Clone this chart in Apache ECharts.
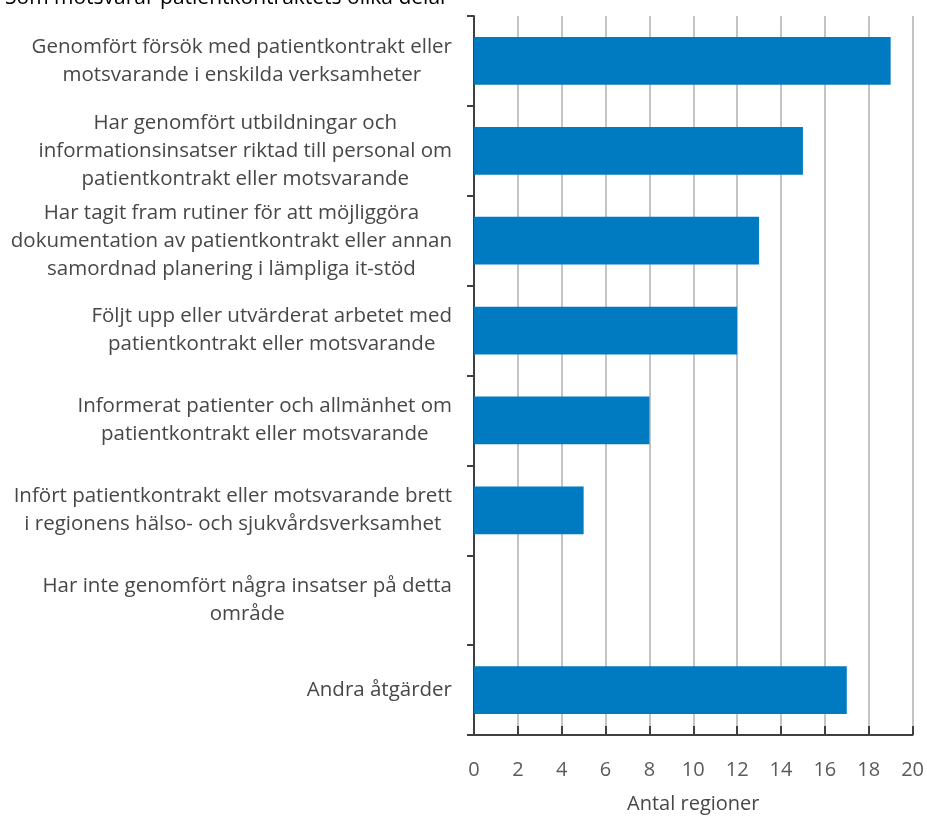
<!DOCTYPE html>
<html>
<head>
<meta charset="utf-8">
<script src="https://cdn.jsdelivr.net/npm/echarts@6/dist/echarts.min.js"></script>
<style>
  html, body { margin: 0; padding: 0; background: #fff; }
  #chart { width: 927px; height: 819px; }
</style>
</head>
<body>
<div id="chart"></div>
<script>
// Kategorier (åtgärder) och antal regioner
const categories = [
  "Genomfört försök med patientkontrakt eller\nmotsvarande i enskilda verksamheter",
  "Har genomfört utbildningar och\ninformationsinsatser riktad till personal om\npatientkontrakt eller motsvarande",
  "Har tagit fram rutiner för att möjliggöra\ndokumentation av patientkontrakt eller annan\nsamordnad planering i lämpliga it-stöd",
  "Följt upp eller utvärderat arbetet med\npatientkontrakt eller motsvarande",
  "Informerat patienter och allmänhet om\npatientkontrakt eller motsvarande",
  "Infört patientkontrakt eller motsvarande brett\ni regionens hälso- och sjukvårdsverksamhet",
  "Har inte genomfört några insatser på detta\nområde",
  "Andra åtgärder"
];
const values = [19, 15, 13, 12, 8, 5, 0, 17];
const xTicks = [0, 2, 4, 6, 8, 10, 12, 14, 16, 18, 20];

const FONT = '"Open Sans", "Noto Sans", sans-serif';
const TEXT = '#474747';

const chart = echarts.init(document.getElementById('chart'), null, { renderer: 'canvas' });

chart.setOption({
  animation: false,
  title: {
    text: 'Som motsvarar patientkontraktets olika delar',
    left: 0,
    top: -17,
    textStyle: { fontFamily: FONT, fontSize: 21, fontWeight: 'normal', color: '#000' }
  },
  grid: { left: 474, right: 14, top: 16, bottom: 79, containLabel: false },
  xAxis: {
    type: 'value',
    min: xTicks[0],
    max: xTicks[xTicks.length - 1],
    interval: 2,
    name: 'Antal regioner',
    nameLocation: 'middle',
    nameGap: 59,
    nameTextStyle: { fontFamily: FONT, fontSize: 20, color: TEXT },
    axisLine: { show: true, lineStyle: { color: '#404040', width: 2 } },
    axisTick: { show: true, inside: true, length: 9, lineStyle: { color: '#404040', width: 2 } },
    axisLabel: { fontFamily: FONT, fontSize: 20, color: '#5a5a5a', margin: 25 },
    splitLine: { show: true, lineStyle: { color: '#c4c4c4', width: 2 } }
  },
  yAxis: {
    type: 'category',
    inverse: true,
    data: categories,
    axisLine: { show: true, lineStyle: { color: '#404040', width: 2 } },
    axisTick: { show: true, alignWithLabel: false, length: 7, lineStyle: { color: '#404040', width: 2 } },
    axisLabel: {
      margin: 22,
      fontFamily: FONT,
      fontSize: 20.5,
      color: TEXT,
      lineHeight: 28,
      formatter: function (v) {
        return v.split('\n').map(function (l) { return '{c|' + l + '}'; }).join('\n');
      },
      rich: {
        c: { align: 'center', fontFamily: FONT, fontSize: 20.5, color: TEXT, lineHeight: 28 }
      }
    }
  },
  series: [{
    type: 'bar',
    data: values,
    barCategoryGap: '47%',
    itemStyle: { color: '#007ac1' }
  }]
});
</script>
</body>
</html>
